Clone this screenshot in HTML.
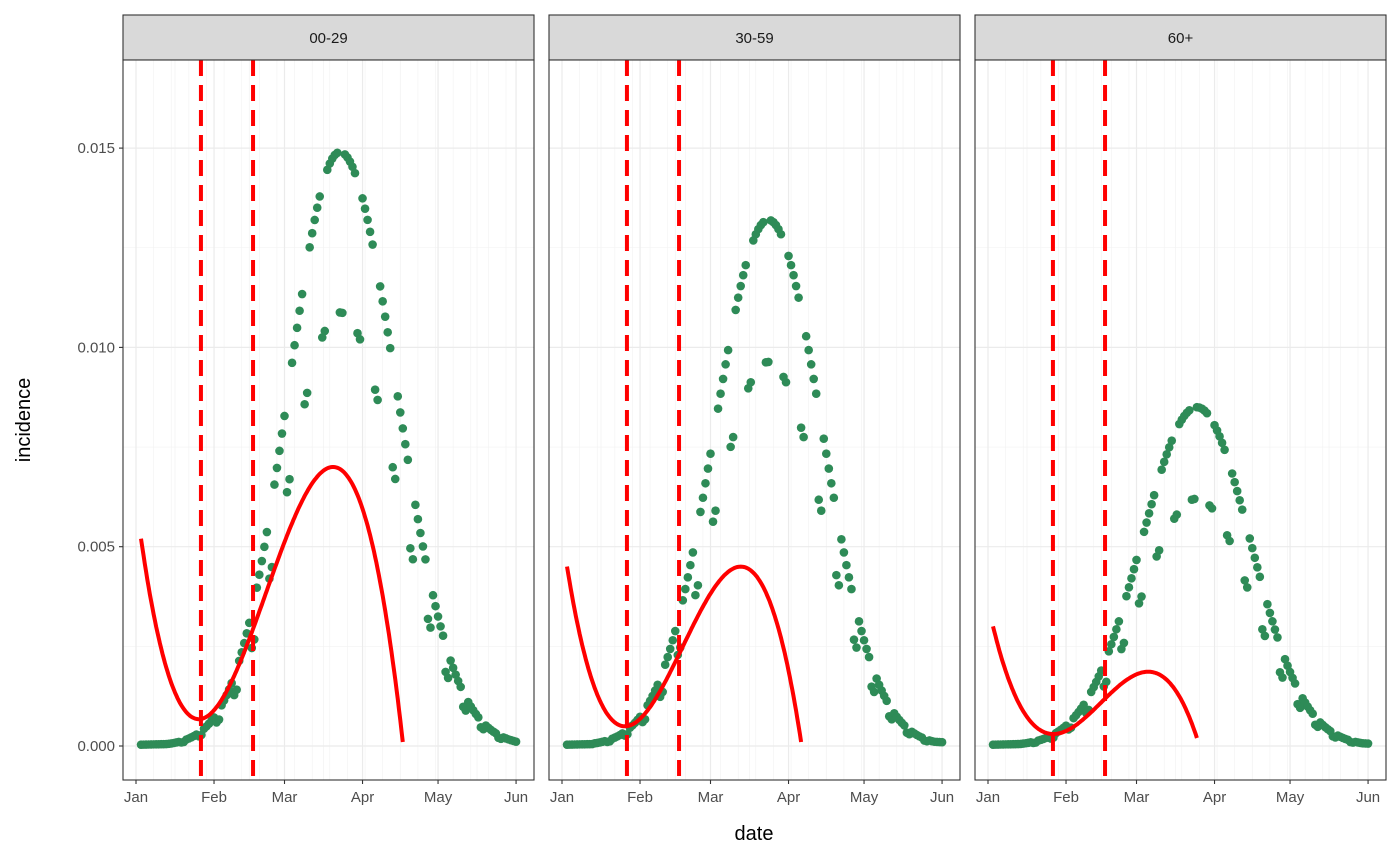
<!DOCTYPE html>
<html><head><meta charset="utf-8"><style>
html,body{margin:0;padding:0;background:#fff}
svg{display:block;font-family:"Liberation Sans",Arial,sans-serif}
</style></head><body>
<svg id="s" width="1400" height="865" xmlns="http://www.w3.org/2000/svg">
<rect width="1400" height="865" fill="#fff"/>
<text x="30" y="420" transform="rotate(-90 30 420)" text-anchor="middle" font-size="20" fill="#000">incidence</text>
<text x="754" y="840" text-anchor="middle" font-size="20" fill="#000">date</text>
</svg>
<script>
const S=document.getElementById('s'),NS='http://www.w3.org/2000/svg';
function el(t,a,p){const e=document.createElementNS(NS,t);for(const k in a)e.setAttribute(k,a[k]);(p||S).appendChild(e);return e;}
const y0=746,ppu=199.3/0.005,ppd=2.517;
const Y=v=>y0-v*ppu;
const panels=[
 {x0:123,label:"00-29",peak:0.0149,c:81,wl:28.7,wr:31.6,red:[[2,0.0052],[27,0.0007],[78,0.0070],[106,0.0001]],rs:2,re:106},
 {x0:549,label:"30-59",peak:0.0132,c:82,wl:30,wr:30,red:[[2,0.0045],[26,0.0005],[71,0.0045],[95,0.0001]],rs:2,re:95},
 {x0:975,label:"60+",peak:0.0085,c:83,wl:31,wr:30,red:[[2,0.0030],[26,0.0003],[61.6,0.00185],[83,0.0002]],rs:2,re:83}
];
const months=[["Jan",0],["Feb",31],["Mar",59],["Apr",90],["May",120],["Jun",151]];
function lag(pts,t){let s=0;for(let i=0;i<pts.length;i++){let l=1;for(let j=0;j<pts.length;j++)if(j!=i)l*=(t-pts[j][0])/(pts[i][0]-pts[j][0]);s+=l*pts[i][1];}return s;}
panels.forEach(p=>{
 const W=411,top=60,bot=780,X=d=>p.x0+13+d*ppd;
 // strip
 el('rect',{x:p.x0,y:15,width:W,height:45,fill:'#d9d9d9',stroke:'#333','stroke-width':1.1});
 const st=el('text',{x:p.x0+W/2,y:43,'text-anchor':'middle','font-size':15,fill:'#1a1a1a'});st.textContent=p.label;
 el('rect',{x:p.x0,y:top,width:W,height:bot-top,fill:'#fff'});
 // minor grid
 for(let v=0.0025;v<0.017;v+=0.005)el('line',{x1:p.x0,x2:p.x0+W,y1:Y(v),y2:Y(v),stroke:'#f2f2f2','stroke-width':0.6});
 for(let d=7;d<151;d+=7)el('line',{x1:X(d),x2:X(d),y1:top,y2:bot,stroke:'#f2f2f2','stroke-width':0.6});
 for(let i=0;i<5;i++){const m=(months[i][1]+months[i+1][1])/2;el('line',{x1:X(m),x2:X(m),y1:top,y2:bot,stroke:'#f2f2f2','stroke-width':0.7});}
 // major grid
 [0,0.005,0.01,0.015].forEach(v=>el('line',{x1:p.x0,x2:p.x0+W,y1:Y(v),y2:Y(v),stroke:'#ebebeb','stroke-width':1.2}));
 months.forEach(m=>el('line',{x1:X(m[1]),x2:X(m[1]),y1:top,y2:bot,stroke:'#ebebeb','stroke-width':1.2}));
 // points
 for(let d=2;d<=151;d++){
  const w=d<p.c?p.wl:p.wr;let v=p.peak*Math.exp(-Math.pow((d-p.c)/w,2));
  const dw=(d+3)%7; if(dw==0||dw==1)v*=0.73;
  v=Math.max(v,0.00003+0.0000015*d*(d<20?1:0));
  if(d>135)v=Math.max(v,p.peak*0.012*(1-(d-135)/40));
  el('circle',{cx:X(d),cy:Y(v),r:4.3,fill:'#2e8b57'});
 }
 // red curve
 let path='';for(let t=p.rs;t<=p.re;t+=0.5){path+=(path?'L':'M')+X(t).toFixed(1)+','+Y(lag(p.red,t)).toFixed(1);}
 el('path',{d:path,fill:'none',stroke:'#ff0000','stroke-width':4});
 [25.8,46.5].forEach(d=>el('line',{x1:X(d),x2:X(d),y1:top,y2:bot,stroke:'#ff0000','stroke-width':4,'stroke-dasharray':'16,9'}));
 el('rect',{x:p.x0,y:top,width:W,height:bot-top,fill:'none',stroke:'#333','stroke-width':1.1});
 // x ticks
 months.forEach(m=>{el('line',{x1:X(m[1]),x2:X(m[1]),y1:bot,y2:bot+4,stroke:'#333','stroke-width':1.1});
  const t=el('text',{x:X(m[1]),y:bot+22,'text-anchor':'middle','font-size':15,fill:'#4d4d4d'});t.textContent=m[0];});
});
// y axis
[[0,"0.000"],[0.005,"0.005"],[0.01,"0.010"],[0.015,"0.015"]].forEach(([v,s])=>{
 el('line',{x1:119,x2:123,y1:Y(v),y2:Y(v),stroke:'#333','stroke-width':1.1});
 const t=el('text',{x:115,y:Y(v)+5,'text-anchor':'end','font-size':15,fill:'#4d4d4d'});t.textContent=s;});
</script>
</body></html>
